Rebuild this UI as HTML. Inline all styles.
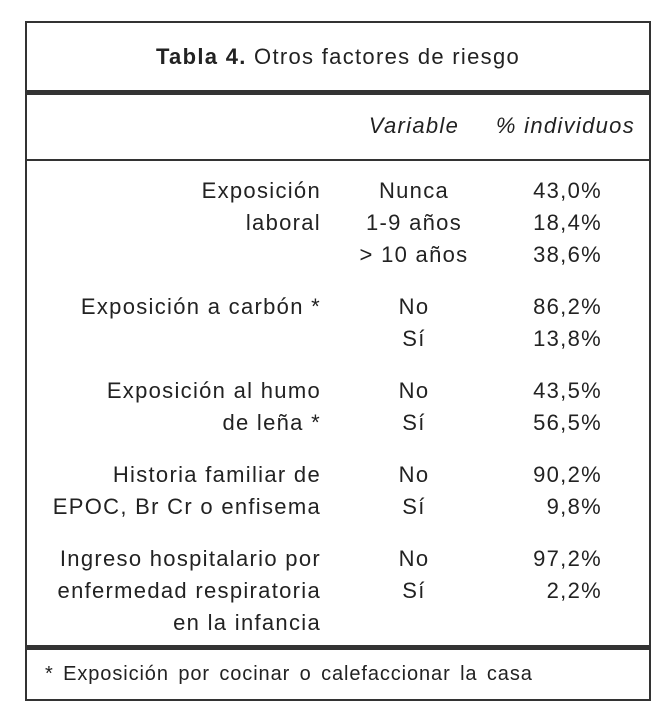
<!DOCTYPE html>
<html><head><meta charset="utf-8"><style>
body{margin:0;width:664px;height:722px;background:#fff;position:relative;font-family:"Liberation Sans",sans-serif;color:#222;overflow:hidden}
.b{position:absolute;background:#333}
.t{position:absolute;font-size:22px;line-height:24px;white-space:nowrap;letter-spacing:1.3px}
.l{right:343px;text-align:right}
.v{left:344px;width:140px;text-align:center}
.p{right:62px;text-align:right}
</style></head><body>
<div class="b" style="left:25px;top:21px;width:626px;height:2px"></div>
<div class="b" style="left:25px;top:21px;width:2px;height:680px"></div>
<div class="b" style="left:649px;top:21px;width:2px;height:680px"></div>
<div class="b" style="left:25px;top:699px;width:626px;height:2px"></div>
<div class="b" style="left:25px;top:90px;width:626px;height:5px"></div>
<div class="b" style="left:25px;top:159px;width:626px;height:2px"></div>
<div class="b" style="left:25px;top:645px;width:626px;height:5px"></div>
<div class="t" style="left:27px;width:622px;text-align:center;top:45px"><b>Tabla 4.</b> Otros factores de riesgo</div>
<div class="t v" style="top:114px;font-style:italic">Variable</div>
<div class="t p" style="top:114px;right:29px;font-style:italic">% individuos</div>

<div class="t l" style="top:179px">Exposición</div>
<div class="t l" style="top:211px">laboral</div>
<div class="t v" style="top:179px">Nunca</div><div class="t p" style="top:179px">43,0%</div>
<div class="t v" style="top:211px">1-9 años</div><div class="t p" style="top:211px">18,4%</div>
<div class="t v" style="top:243px">&gt; 10 años</div><div class="t p" style="top:243px">38,6%</div>

<div class="t l" style="top:295px">Exposición a carbón *</div>
<div class="t v" style="top:295px">No</div><div class="t p" style="top:295px">86,2%</div>
<div class="t v" style="top:327px">Sí</div><div class="t p" style="top:327px">13,8%</div>

<div class="t l" style="top:379px">Exposición al humo</div>
<div class="t l" style="top:411px">de leña *</div>
<div class="t v" style="top:379px">No</div><div class="t p" style="top:379px">43,5%</div>
<div class="t v" style="top:411px">Sí</div><div class="t p" style="top:411px">56,5%</div>

<div class="t l" style="top:463px">Historia familiar de</div>
<div class="t l" style="top:495px">EPOC, Br Cr o enfisema</div>
<div class="t v" style="top:463px">No</div><div class="t p" style="top:463px">90,2%</div>
<div class="t v" style="top:495px">Sí</div><div class="t p" style="top:495px">9,8%</div>

<div class="t l" style="top:547px">Ingreso hospitalario por</div>
<div class="t l" style="top:579px">enfermedad respiratoria</div>
<div class="t l" style="top:611px">en la infancia</div>
<div class="t v" style="top:547px">No</div><div class="t p" style="top:547px">97,2%</div>
<div class="t v" style="top:579px">Sí</div><div class="t p" style="top:579px">2,2%</div>

<div class="t" style="left:45px;top:662px;font-size:20px;letter-spacing:0.9px;word-spacing:3px">* Exposición por cocinar o calefaccionar la casa</div>
</body></html>
